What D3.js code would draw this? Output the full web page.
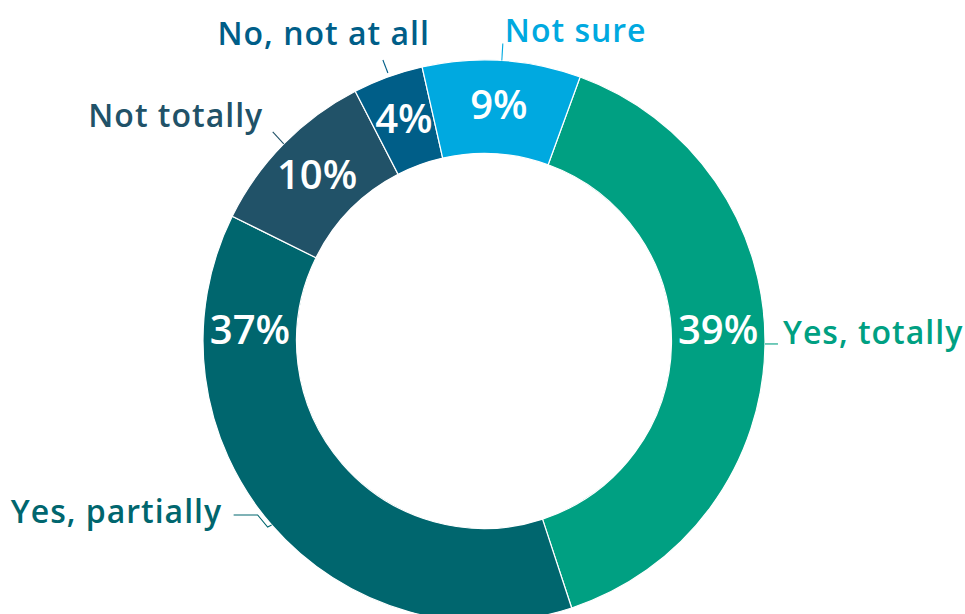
<!DOCTYPE html>
<html>
<head>
<meta charset="utf-8">
<script src="https://cdn.jsdelivr.net/npm/d3@7"></script>
<style>
  html, body { margin: 0; padding: 0; background: #ffffff; }
  svg { display: block; }
  text { font-family: "Open Sans", "Noto Sans", sans-serif; }
</style>
</head>
<body>
<svg id="chart" width="965" height="614"></svg>
<script>
// Survey answers, in drawing order (clockwise)
const categories = ["Yes, totally", "Yes, partially", "Not totally", "No, not at all", "Not sure"];
const shares = [39, 37, 10, 4, 9];
const valueLabels = ["39%", "37%", "10%", "4%", "9%"];
const colors = ["#00a082", "#00666e", "#215268", "#005e88", "#00a9e0"];

const width = 965, height = 614;
const cx = 484, cy = 341;
const outerR = 281, innerR = 187.5;
const deg = Math.PI / 180;

// Callout layout for each category: leader polyline and text offset,
// both relative to the point on the outer rim at the slice's mid-angle.
const callouts = [
  { leader: [[0, -1.5], [13, -1.5]], text: [18, -1.5], anchor: "start" },
  { leader: [[0, 0], [-4, 2], [-14, -10], [-38, -10]], text: [-49.5, -2], anchor: "end" },
  { leader: [[0, 0], [-11, -12]], text: [-20.5, -17], anchor: "end" },
  { leader: [[0, -4], [-5, -17]], text: [42, -32], anchor: "end" },
  { leader: [[0, 0], [1, -17]], text: [3, -18.5], anchor: "start" }
];
// The two large slices carry their percentage level with the ring's sides.
const valueAngle = [87.8, 272.2, null, null, null];

const svg = d3.select("#chart");
const g = svg.append("g").attr("transform", `translate(${cx},${cy})`);

const pie = d3.pie()
  .sort(null)
  .value(d => d.value)
  .startAngle(20 * deg)
  .endAngle(380 * deg);

const data = categories.map((c, i) => ({ name: c, value: shares[i], label: valueLabels[i], color: colors[i], i }));
const arcs = pie(data);

const arc = d3.arc().innerRadius(innerR).outerRadius(outerR);
const labelR = (innerR + outerR) / 2;

g.selectAll("path.slice")
  .data(arcs)
  .join("path")
  .attr("class", "slice")
  .attr("d", arc)
  .attr("fill", d => d.data.color)
  .attr("stroke", "#ffffff")
  .attr("stroke-width", 1.2);

// Percentages inside the ring
g.selectAll("text.value")
  .data(arcs)
  .join("text")
  .attr("class", "value")
  .attr("transform", d => {
    const a = valueAngle[d.data.i] !== null ? valueAngle[d.data.i] * deg : (d.startAngle + d.endAngle) / 2;
    return `translate(${labelR * Math.sin(a)},${-labelR * Math.cos(a)})`;
  })
  .attr("dy", "0.3em")
  .attr("text-anchor", "middle")
  .attr("fill", "#ffffff")
  .attr("font-size", 40)
  .attr("font-weight", 600)
  .text(d => d.data.label);

// Category callouts
const rim = d => {
  const a = (d.startAngle + d.endAngle) / 2;
  return [outerR * Math.sin(a), -outerR * Math.cos(a)];
};

const callout = g.selectAll("g.callout")
  .data(arcs)
  .join("g")
  .attr("class", "callout")
  .attr("transform", d => `translate(${rim(d)[0]},${rim(d)[1]})`);

callout.append("path")
  .attr("d", d => d3.line()(callouts[d.data.i].leader))
  .attr("fill", "none")
  .attr("stroke", d => d.data.color)
  .attr("stroke-width", 1.1);

callout.append("text")
  .attr("x", d => callouts[d.data.i].text[0])
  .attr("y", d => callouts[d.data.i].text[1])
  .attr("text-anchor", d => callouts[d.data.i].anchor)
  .attr("fill", d => d.data.color)
  .attr("font-size", 32)
  .attr("font-weight", 600)
  .attr("letter-spacing", 1)
  .text(d => d.data.name);
</script>
</body>
</html>
